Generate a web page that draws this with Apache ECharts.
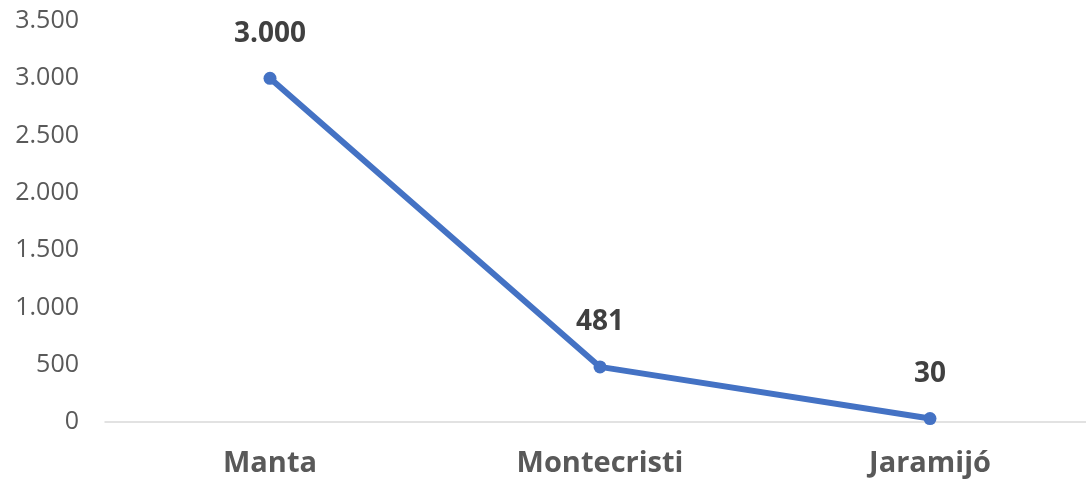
<!DOCTYPE html>
<html>
<head>
<meta charset="utf-8">
<script src="https://cdn.jsdelivr.net/npm/echarts@6/dist/echarts.min.js"></script>
<style>
    html, body { margin: 0; padding: 0; background: #ffffff; }
    #main { width: 1086px; height: 482px; }
</style>
</head>
<body>
<div id="main"></div>
<script>
    // datos
    const categories = ['Manta', 'Montecristi', 'Jaramijó'];
    const values = [3000, 481, 30];
    const yTicks = [0, 500, 1000, 1500, 2000, 2500, 3000, 3500];

    // separador de miles con punto
    const fmt = v => String(v).replace(/\B(?=(\d{3})+(?!\d))/g, '.');

    const chart = echarts.init(document.getElementById('main'));

    const option = {
        animation: false,
        textStyle: { fontFamily: 'Open Sans' },
        grid: {
            left: 105,
            width: 990,
            top: 21,
            bottom: 60,
            outerBoundsMode: 'none'
        },
        xAxis: {
            type: 'category',
            data: categories,
            boundaryGap: true,
            axisLine: { lineStyle: { color: '#d9d9d9', width: 1.5 } },
            axisTick: { show: false },
            axisLabel: {
                margin: 27,
                color: '#595959',
                fontSize: 29,
                fontWeight: 'bold'
            }
        },
        yAxis: {
            type: 'value',
            min: yTicks[0],
            max: yTicks[yTicks.length - 1],
            interval: 500,
            splitLine: { show: false },
            axisLine: { show: false },
            axisTick: { show: false },
            axisLabel: {
                margin: 26,
                color: '#595959',
                fontSize: 25,
                formatter: v => fmt(v)
            }
        },
        series: [
            {
                type: 'line',
                data: values,
                symbol: 'circle',
                symbolSize: 13,
                itemStyle: { color: '#4472c4' },
                lineStyle: { color: '#4472c4', width: 6 },
                label: {
                    show: true,
                    position: 'top',
                    distance: 24,
                    color: '#404040',
                    fontSize: 28,
                    fontWeight: 'bold',
                    formatter: p => fmt(p.value)
                }
            }
        ]
    };

    chart.setOption(option);
</script>
</body>
</html>
